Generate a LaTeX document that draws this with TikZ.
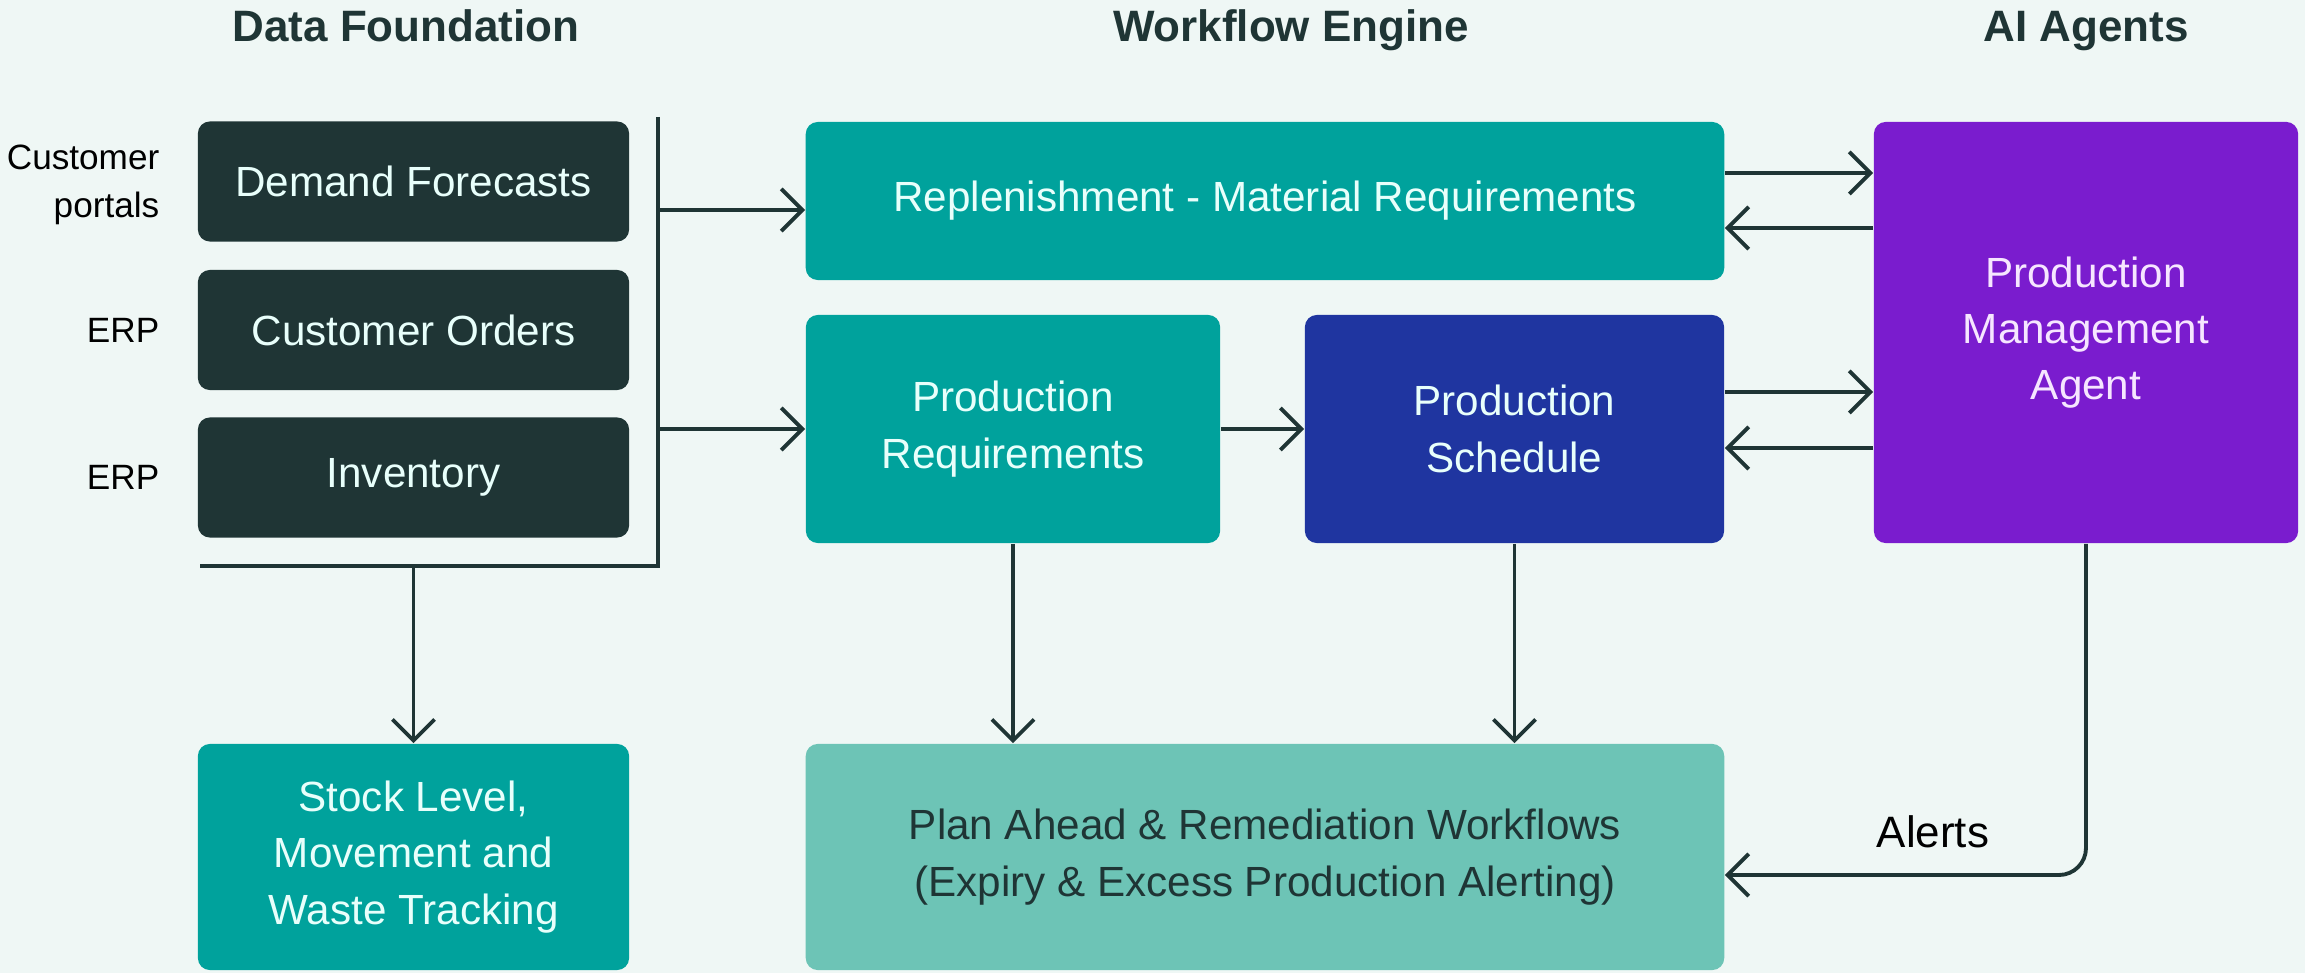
\documentclass[tikz,border=0pt]{standalone}
\usepackage{fontspec}
\setmainfont{Liberation Sans}
\usepackage{tikz}
\usetikzlibrary{arrows.meta}
\definecolor{bgmint}{HTML}{EFF7F5}
\definecolor{darkslate}{HTML}{1F3535}
\definecolor{tealbox}{HTML}{00A29C}
\definecolor{navybox}{HTML}{1F35A0}
\definecolor{purplebox}{HTML}{7A1CCE}
\definecolor{paletealbox}{HTML}{6DC4B6}
\definecolor{boxtext}{HTML}{E8FFFB}
\definecolor{agenttext}{HTML}{F6E6FF}
\tikzset{
    box/.style={rectangle, rounded corners=0.12cm, align=center, inner sep=0pt, text=boxtext, font=\fontsize{12}{16}\selectfont},
    databox/.style={box, fill=darkslate, minimum width=4.31cm, minimum height=1.2cm},
    tealstep/.style={box, fill=tealbox},
    link/.style={draw=darkslate, line width=1.1pt},
    flow/.style={link, -{Straight Barb[length=6pt, width=12pt]}},
    heading/.style={anchor=base, text=darkslate, font=\bfseries\fontsize{12.5}{15}\selectfont},
    srclabel/.style={anchor=east, align=right, inner sep=0pt, text=black, font=\fontsize{10}{13.5}\selectfont}
}

\begin{document}
\begin{tikzpicture}[x=0.01cm, y=-0.01cm]

                    \fill[bgmint] (0,0) rectangle (2305,973);
                    \useasboundingbox (0,0) rectangle (2305,973);

                    \node[heading] (H1) at (406,42) {Data Foundation};
                    \node[heading] (H2) at (1291,42) {Workflow Engine};
                    \node[heading] (H3) at (2086,42) {AI Agents};

                    \node[databox] (DF) at (413.5,181.5) {Demand Forecasts};
                    \node[databox] (CO) at (413.5,330) {Customer Orders};
                    \node[databox] (INV) at (413.5,477.5) {Inventory};

                    \node[srclabel] (S1) at (160,185) {Customer\\portals};
                    \node[srclabel] (S2) at (160,330) {ERP};
                    \node[srclabel] (S3) at (160,477.5) {ERP};

                    \node[tealstep, minimum width=4.31cm, minimum height=2.26cm] (STK) at (413.5,857) {Stock Level,\\Movement and\\Waste Tracking};
                    \node[tealstep, minimum width=9.18cm, minimum height=1.58cm] (REP) at (1265,201) {Replenishment - Material Requirements};
                    \node[tealstep, minimum width=4.14cm, minimum height=2.28cm] (PRQ) at (1013,429) {Production\\Requirements};
                    \node[box, fill=navybox, minimum width=4.19cm, minimum height=2.28cm] (SCH) at (1514.5,429) {Production\\Schedule};
                    \node[box, fill=purplebox, text=agenttext, minimum width=4.24cm, minimum height=4.21cm] (AG) at (2086,332.5) {Production\\Management\\Agent};
                    \node[box, fill=paletealbox, text=darkslate, minimum width=9.18cm, minimum height=2.26cm] (PLN) at (1265,857) {Plan Ahead \& Remediation Workflows\\(Expiry \& Excess Production Alerting)};

                    \coordinate (brTop) at (658,117);
                    \coordinate (brBot) at (658,566);
                    \coordinate (brLeft) at (200,566);

                    \draw[link] (brTop) -- (brBot) -- (brLeft);
                    \draw[flow] ([yshift=-0.09cm]REP.west -| brTop) -- ([yshift=-0.09cm]REP.west);
                    \draw[flow] (PRQ.west -| brTop) -- (PRQ.west);
                    \draw[flow] (STK.north |- brBot) -- (STK.north);

                    \draw[flow] ([yshift=0.28cm]REP.east) -- ([yshift=0.28cm]REP.east -| AG.west);
                    \draw[flow] ([yshift=-0.27cm]REP.east -| AG.west) -- ([yshift=-0.27cm]REP.east);
                    \draw[flow] ([yshift=0.37cm]SCH.east) -- ([yshift=0.37cm]SCH.east -| AG.west);
                    \draw[flow] ([yshift=-0.19cm]SCH.east -| AG.west) -- ([yshift=-0.19cm]SCH.east);

                    \draw[flow] (PRQ) -- (SCH);
                    \draw[flow] (PRQ.south) -- (PRQ.south |- PLN.north);
                    \draw[flow] (SCH.south) -- (SCH.south |- PLN.north);

                    \draw[flow, rounded corners=0.27cm] (AG.south) |- ([yshift=-0.18cm]PLN.east);
                    \node[anchor=base, text=black, font=\fontsize{12.5}{15}\selectfont] (AL) at (1933,847) {Alerts};

\end{tikzpicture}
\end{document}
